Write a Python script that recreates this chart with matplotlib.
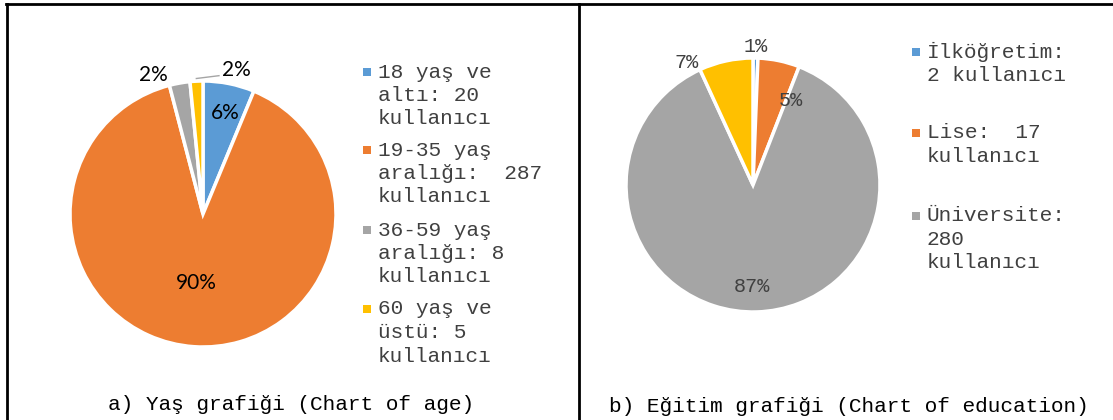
import numpy as np
import matplotlib
matplotlib.use("Agg")
import matplotlib.pyplot as plt
from matplotlib.patches import Rectangle
from matplotlib.lines import Line2D

# --- data ---
age_values = [20, 287, 8, 5]
age_labels = ["18 yaş ve\naltı: 20\nkullanıcı",
              "19-35 yaş\naralığı:  287\nkullanıcı",
              "36-59 yaş\naralığı: 8\nkullanıcı",
              "60 yaş ve\nüstü: 5\nkullanıcı"]
edu_values = [2, 17, 280, 22]
edu_labels = ["İlköğretim:\n2 kullanıcı",
              "Lise:  17\nkullanıcı",
              "Üniversite:\n280\nkullanıcı"]
colors = ["#5B9BD5", "#ED7D31", "#A5A5A5", "#FFC000"]
captions = ["a) Yaş grafiği (Chart of age)",
            "b) Eğitim grafiği (Chart of education)"]

W, H = 1113, 420
MONO = "Liberation Mono"
TXT = "#404040"


def fx(x):
    return x / W


def fy(y):
    return 1 - y / H


def draw_pie(fig, values, cx, cy, r, label_pos, label_style):
    """Pie centered at pixel (cx, cy) with radius r; labels placed by (dist, angle nudge)."""
    ax = fig.add_axes([fx(cx - r), fy(cy + r), 2 * r / W, 2 * r / H])
    wedges, _ = ax.pie(values, colors=colors[:len(values)], startangle=90,
                       counterclock=False, radius=1,
                       wedgeprops=dict(edgecolor="white", linewidth=2.5))
    ax.set_xlim(-1, 1)
    ax.set_ylim(-1, 1)
    ax.set_aspect("equal")
    ax.axis("off")
    total = sum(values)
    for w, v, (dist, nudge) in zip(wedges, values, label_pos):
        mid = np.deg2rad((w.theta1 + w.theta2) / 2 + nudge)
        ax.text(dist * np.cos(mid), dist * np.sin(mid), f"{100 * v / total:.0f}%",
                ha="center", va="center", clip_on=False, **label_style)
    return ax, wedges


def draw_legend(fig, labels, x, starts, pitch=23.5):
    for lab, y0, c in zip(labels, starts, colors):
        fig.add_artist(Rectangle((fx(x - 4), fy(y0 + 4)), 8 / W, 8 / H,
                                 transform=fig.transFigure, color=c, lw=0))
        for i, line in enumerate(lab.split("\n")):
            fig.text(fx(x + 11), fy(y0 + i * pitch), line, family=MONO,
                     fontsize=15.2, color=TXT, ha="left", va="center")


fig = plt.figure(figsize=(W / 100, H / 100), dpi=100)

# panel borders
fig.add_artist(Line2D([fx(7), fx(7)], [fy(4), 0], transform=fig.transFigure, color="black", lw=2))
fig.add_artist(Line2D([fx(579), fx(579)], [fy(4), 0], transform=fig.transFigure, color="black", lw=2))
fig.add_artist(Line2D([fx(6), 1], [fy(4), fy(4)], transform=fig.transFigure, color="black", lw=2))

# a) age
ax1, w1 = draw_pie(fig, age_values, 203, 214, 133,
                   [(0.78, -1), (0.52, -2), (1.11, 9.7), (1.11, -16)],
                   dict(family="Lato", fontsize=15, color="black"))
# leader line for the small yellow slice
t = np.deg2rad((w1[3].theta1 + w1[3].theta2) / 2)
ax1.plot([np.cos(t) * 1.02, 0.12], [np.sin(t) * 1.02, 1.04], color="#A5A5A5", lw=1, clip_on=False)
draw_legend(fig, age_labels, 367, [72, 150, 230, 309])

# b) education
draw_pie(fig, edu_values, 753, 185, 127,
         [(1.09, 0), (0.73, -12), (0.80, -2), (1.10, 16)],
         dict(family=MONO, fontsize=14.5, color=TXT))
draw_legend(fig, edu_labels, 916, [52, 133, 216])

fig.text(fx(291), fy(405), captions[0], family=MONO, fontsize=15.2, color="black",
         ha="center", va="center")
fig.text(fx(849), fy(407), captions[1], family=MONO, fontsize=15.2, color="black",
         ha="center", va="center")

fig.savefig("out.png", dpi=100)
